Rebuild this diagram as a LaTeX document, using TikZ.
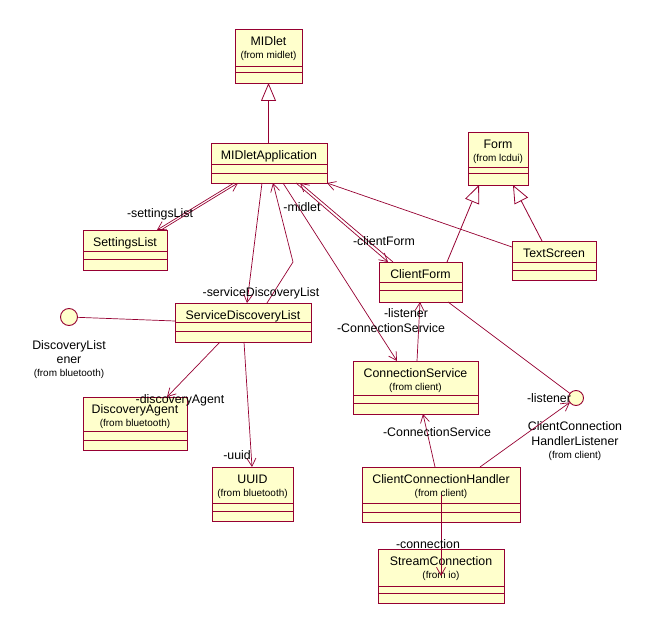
\documentclass[tikz,border=0pt]{standalone}
\usepackage{fontspec}
\setmainfont{Liberation Sans}
\usetikzlibrary{arrows.meta,calc}

\definecolor{umlred}{RGB}{150,0,50}
\definecolor{umlfill}{RGB}{255,255,204}

\tikzset{
  classbody/.style={rectangle, draw=umlred, fill=umlfill, line width=0.9bp, inner sep=0pt, outer sep=0pt},
  compart/.style={draw=umlred, line width=0.9bp},
  classname/.style={font=\fontsize{12.4}{14}\selectfont, inner sep=0pt, anchor=base},
  classorigin/.style={font=\fontsize{10}{12}\selectfont, inner sep=0pt, anchor=base},
  rolelabel/.style={font=\fontsize{12.4}{14}\selectfont, inner sep=0pt, anchor=base},
  assoc/.style={draw=umlred, line width=0.7bp, -{Straight Barb[length=8bp,width=9bp]}},
  plainlink/.style={draw=umlred, line width=0.7bp},
  inherit/.style={draw=umlred, line width=0.8bp, -{Triangle[open,length=18bp,width=15bp]}},
  iface/.style={circle, draw=umlred, fill=umlfill, line width=0.9bp, inner sep=0pt, outer sep=0pt},
}

% \umlclass{name}{x1}{y1}{x2}{y2}{sep1}{sep2}{title}{package}
\newcommand\umlclass[9]{%
  \node[classbody, minimum width={(#4-#2)*1bp}, minimum height={(#5-#3)*1bp}]
    (#1) at ({(#2+#4)/2},{(#3+#5)/2}) {};
  \draw[compart] (#2,#6) -- (#4,#6) (#2,#7) -- (#4,#7);
  \node[classname] (#1-name) at ({(#2+#4)/2},{#3+16.5}) {#8};
  \if\relax\detokenize{#9}\relax\else
    \node[classorigin] (#1-origin) at ({(#2+#4)/2},{#3+29.5}) {#9};
  \fi
}

\begin{document}
\begin{tikzpicture}[x=1bp,y=-1bp]
\fill[white] (0,0) rectangle (655,634);
\useasboundingbox (0,0) rectangle (655,634);

% classes
\umlclass{midlet}{235}{29}{302}{83}{66}{72}{MIDlet}{(from midlet)}
\umlclass{midapp}{211}{143}{327}{183}{164}{173}{MIDletApplication}{}
\umlclass{form}{468}{132}{528}{185}{167}{173}{Form}{(from lcdui)}
\umlclass{ts}{512}{241}{596}{280}{262}{270}{TextScreen}{}
\umlclass{sl}{83}{230}{167}{270}{251}{259}{SettingsList}{}
\umlclass{cf}{379}{262}{462}{302}{282}{290}{ClientForm}{}
\umlclass{sdl}{175}{303}{311}{342}{322}{331}{ServiceDiscoveryList}{}
\umlclass{da}{83}{397}{187}{450}{431}{440}{DiscoveryAgent}{(from bluetooth)}
\umlclass{cs}{353}{361}{478}{414}{395}{403}{ConnectionService}{(from client)}
\umlclass{uuid}{212}{467}{293}{521}{503}{511}{UUID}{(from bluetooth)}
\umlclass{cch}{362}{467}{520}{522}{503}{512}{ClientConnectionHandler}{(from client)}
\umlclass{sc}{378}{549}{504}{603}{586}{593}{StreamConnection}{(from io)}

% interfaces (lollipops)
\node[iface, minimum size=17bp] (dl) at (69,317) {};
\node[classname] (dl-name1) at (69,349) {DiscoveryList};
\node[classname] (dl-name2) at (69,363) {ener};
\node[classorigin] (dl-origin) at (69,376.5) {(from bluetooth)};

\node[iface, minimum size=15bp] (cchl) at (576,398) {};
\node[classname] (cchl-name1) at (575,430) {ClientConnection};
\node[classname] (cchl-name2) at (575,445) {HandlerListener};
\node[classorigin] (cchl-origin) at (575,458.5) {(from client)};

% generalizations
\draw[inherit] (midlet.south |- midapp.north) -- (midlet.south);
\draw[inherit] ($(cf.north west)+(68,0)$) -- ($(form.south west)+(11,0)$);
\draw[inherit] ($(ts.north west)+(30,0)$) -- ($(form.south west)+(45,0)$);

% associations
\draw[assoc] ($(midapp.south west)+(23,0)$) -- ($(sl.north west)+(74,0)$);
\draw[assoc] ($(sl.north west)+(78,0)$) -- ($(midapp.south west)+(27,0)$);

\draw[assoc] ($(midapp.south west)+(51,0)$) -- ($(sdl.north west)+(72,0)$);
\coordinate (sdlbend) at (293,262);
\draw[assoc] ($(sdl.north west)+(92,0)$) -- (sdlbend) -- ($(midapp.south west)+(62,0)$);

\draw[assoc] ($(midapp.south west)+(72,0)$) -- ($(cs.north west)+(44,0)$);

\draw[assoc] ($(midapp.south west)+(85,0)$) -- ($(cf.north west)+(9,0)$);
\draw[assoc] ($(cf.north west)+(14,0)$) -- ($(midapp.south west)+(89,0)$);

\draw[assoc] ($(ts.north west)+(0,6)$) -- (midapp.south east);

\draw[assoc] ($(cs.north west)+(64,0)$) -- ($(cf.south west)+(41,0)$);
\draw[plainlink] ($(cf.south west)+(69,0)$) -- (cchl);
\draw[assoc] ($(cch.north west)+(118,0)$) -- (cchl);
\draw[assoc] ($(cch.north west)+(73,0)$) -- ($(cs.south west)+(70,0)$);
\draw[assoc] (cch.center) -- (sc.center);

\draw[assoc] ($(sdl.south west)+(45,0)$) -- ($(da.north west)+(84,0)$);
\draw[assoc] ($(sdl.south west)+(69,0)$) -- ($(uuid.north west)+(40,0)$);
\draw[plainlink] (dl) -- ($(sdl.north west)+(0,18)$);

% role names
\node[rolelabel] (r-settings) at (160,217) {-settingsList};
\node[rolelabel] (r-midlet) at (302,211) {-midlet};
\node[rolelabel] (r-clientform) at (384,245) {-clientForm};
\node[rolelabel] (r-sdl) at (261,296) {-serviceDiscoveryList};
\node[rolelabel] (r-listener1) at (406,317) {-listener};
\node[rolelabel] (r-conn1) at (391,332) {-ConnectionService};
\node[rolelabel] (r-agent) at (180,403) {-discoveryAgent};
\node[rolelabel] (r-uuid) at (237,459) {-uuid};
\node[rolelabel] (r-conn2) at (437,436) {-ConnectionService};
\node[rolelabel] (r-listener2) at (549,402) {-listener};
\node[rolelabel] (r-connection) at (428,548) {-connection};
\end{tikzpicture}
\end{document}
